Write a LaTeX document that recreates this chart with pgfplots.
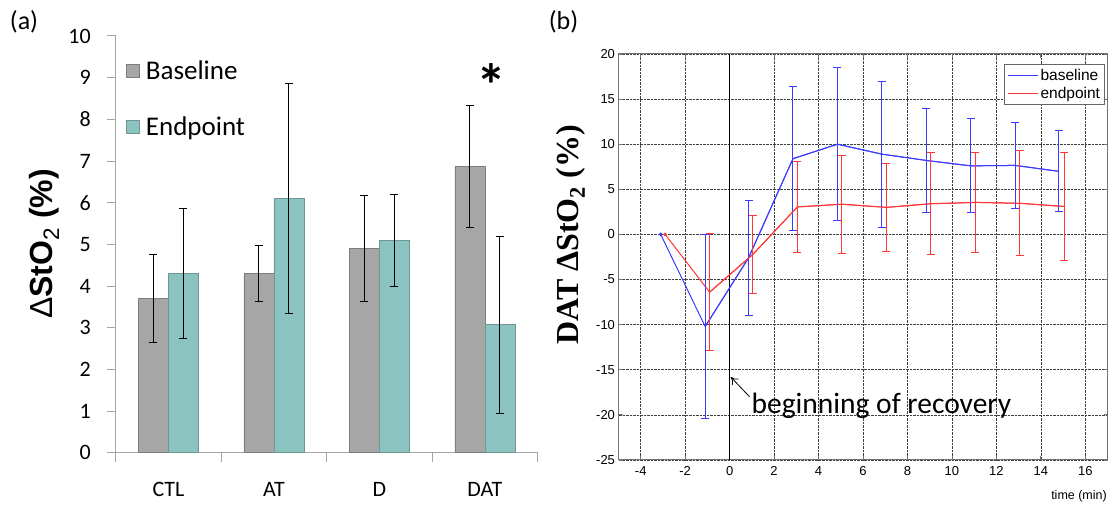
\documentclass[border=0pt]{standalone}
\usepackage{fontspec}
\usepackage{pgfplots}
\pgfplotsset{compat=1.18}
\usetikzlibrary{arrows.meta}

\newfontfamily\carlito{Carlito}
\newfontfamily\arial{Liberation Sans}
\newfontfamily\timesrm{Liberation Serif}

\definecolor{barGray}{RGB}{166,166,166}
\definecolor{barGrayEdge}{RGB}{125,125,125}
\definecolor{barTeal}{RGB}{139,195,193}
\definecolor{barTealEdge}{RGB}{112,150,148}
\definecolor{axisGray}{RGB}{165,165,165}
\definecolor{mBlue}{RGB}{60,60,255}
\definecolor{mRed}{RGB}{255,55,55}

% panel (b): time course of DAT group, mean and SD
\pgfplotstableread{
t      y      e
-3.10  0.00   0
-1.10 -10.20  10.20
 0.85 -2.60   6.40
 2.85  8.40   8.00
 4.85 10.00   8.50
 6.85  8.90   8.10
 8.85  8.20   5.75
10.85  7.60   5.20
12.85  7.65   4.80
14.80  7.00   4.50
}\baselinetab
\pgfplotstableread{
t      y      e
-2.90  0.00   0
-0.90 -6.40   6.50
 1.05 -2.20   4.30
 3.05  3.05   5.05
 5.05  3.35   5.45
 7.05  3.00   4.90
 9.05  3.40   5.65
11.05  3.55   5.50
13.05  3.45   5.80
15.05  3.10   5.95
}\endpointtab

\begin{document}
\begin{tikzpicture}[x=1pt,y=1pt]
\useasboundingbox (0,0) rectangle (1112,506);

% ---------------- panel (a) ----------------
\begin{axis}[
  at={(115.7pt,53.3pt)}, anchor=south west,
  scale only axis, width=422pt, height=416.7pt,
  xmin=-0.5, xmax=3.5, ymin=0, ymax=10,
  ybar=0pt, bar width=30pt,
  axis x line*=bottom, axis y line*=left,
  axis line style={axisGray, line width=1pt},
  xtick={0,1,2,3}, xticklabels={CTL,AT,D,DAT},
  minor xtick={-0.5,0.5,1.5,2.5,3.5},
  ytick={0,1,...,10},
  tick align=outside,
  major x tick style={draw=none},
  minor tick length=9pt, major tick length=8.7pt,
  tick style={axisGray, line width=1pt},
  /pgf/number format/assume math mode=true,
  xticklabel style={font=\carlito\fontsize{22}{26}\selectfont, anchor=base, inner sep=0pt, yshift=-35pt},
  yticklabel style={font=\carlito\fontsize{22}{26}\selectfont, anchor=east, inner sep=0pt, xshift=-16pt},
  legend style={at={(axis cs:-0.403,9.45)}, anchor=north west, draw=none, fill=none,
    font=\carlito\fontsize{27}{32}\selectfont, row sep=31pt, inner sep=0pt,
    nodes={inner xsep=6pt}},
  legend cell align=left,
  clip=false,
]
\addplot[fill=barGray, draw=barGrayEdge, line width=0.8pt,
  legend image code/.code={\draw[fill=barGray, draw=barGrayEdge, line width=0.8pt] (0pt,-6.5pt) rectangle (13pt,6.5pt);},
  error bars/.cd, y dir=both, y explicit,
  error bar style={black, line width=1pt},
  error mark options={rotate=90, black, mark size=4pt, line width=1pt}]
  coordinates {(0,3.70) +- (0,1.06) (1,4.30) +- (0,0.68) (2,4.90) +- (0,1.27) (3,6.87) +- (0,1.47)};
\addlegendentry{Baseline}
\addplot[fill=barTeal, draw=barTealEdge, line width=0.8pt,
  legend image code/.code={\draw[fill=barTeal, draw=barTealEdge, line width=0.8pt] (0pt,-6.5pt) rectangle (13pt,6.5pt);},
  error bars/.cd, y dir=both, y explicit,
  error bar style={black, line width=1pt},
  error mark options={rotate=90, black, mark size=4pt, line width=1pt}]
  coordinates {(0,4.30) +- (0,1.57) (1,6.10) +- (0,2.76) (2,5.10) +- (0,1.10) (3,3.07) +- (0,2.12)};
\addlegendentry{Endpoint}
\node[font=\carlito\bfseries\fontsize{60}{60}\selectfont, anchor=base, inner sep=0pt] at (axis cs:3.06,8.31) {*};
\end{axis}

% ---------------- panel (b) ----------------
\begin{axis}[
  at={(618.5pt,46pt)}, anchor=south west,
  scale only axis, width=489pt, height=406pt,
  xmin=-5, xmax=17, ymin=-25, ymax=20,
  xtick={-4,-2,...,16}, ytick={-25,-20,...,20},
  grid=major, grid style={densely dotted, black!75, line width=0.6pt},
  axis line style={black!55, line width=1pt},
  tick align=inside, major tick length=4pt, tick style={black!55, line width=0.8pt},
  /pgf/number format/assume math mode=true,
  ticklabel style={font=\arial\fontsize{13}{15}\selectfont},
  xticklabel style={yshift=-3pt},
  legend style={at={(0.995,0.975)}, anchor=north east, draw=black!60, line width=1pt,
    fill=white, font=\arial\fontsize{15.5}{18}\selectfont, inner sep=2.5pt, row sep=1pt},
  legend cell align=left,
  legend image code/.code={\draw[#1] (0pt,0pt) -- (30pt,0pt);},
]
\addlegendimage{mBlue, line width=1.1pt}
\addlegendentry{baseline}
\addlegendimage{mRed, line width=1.1pt}
\addlegendentry{endpoint}
% start of recovery
\addplot[black, line width=1pt, forget plot] coordinates {(0,-25) (0,20)};
% mean curves
\addplot[mBlue, line width=1pt, mark=*, mark size=1.3pt, mark indices={1}, forget plot]
  table[x=t, y=y] {\baselinetab};
\addplot[mRed, line width=1pt, mark=*, mark size=1.3pt, mark indices={1}, forget plot]
  table[x=t, y=y] {\endpointtab};
% standard deviations (no spread at the first sample)
\addplot[mBlue, line width=1pt, mark=none, forget plot, skip coords between index={0}{1},
  error bars/.cd, y dir=both, y explicit, error bar style={mBlue, line width=1pt},
  error mark options={rotate=90, mBlue, mark size=4pt, line width=1pt}]
  table[x=t, y=y, y error=e] {\baselinetab};
\addplot[mRed, line width=1pt, mark=none, forget plot, skip coords between index={0}{1},
  error bars/.cd, y dir=both, y explicit, error bar style={mRed, line width=1pt},
  error mark options={rotate=90, mRed, mark size=4pt, line width=1pt}]
  table[x=t, y=y, y error=e] {\endpointtab};
\draw[-{To[length=7pt,width=9pt]}, black, line width=0.8pt] (axis cs:0.9,-18.0) -- (axis cs:0.05,-15.8);
\node[font=\carlito\fontsize{29.5}{34}\selectfont, anchor=base west, inner sep=0pt] at (axis cs:0.98,-19.8) {beginning of recovery};
\end{axis}

% panel letters and axis titles
\node[font=\carlito\fontsize{26}{30}\selectfont] at (24,484) {(a)};
\node[font=\carlito\fontsize{26}{30}\selectfont] at (563.5,484) {(b)};
\node[rotate=90, font=\arial\fontsize{32}{36}\selectfont] at (44,262)
  {Δ\textbf{StO}\textsubscript{2}\textbf{ (\%)}};
\node[rotate=90, font=\timesrm\bfseries\fontsize{32}{36}\selectfont] at (571,271)
  {DAT ΔStO\textsubscript{2} (\%)};
\node[anchor=east, inner sep=0pt, font=\arial\fontsize{12.5}{14}\selectfont] at (1107,10) {time (min)};
\end{tikzpicture}
\end{document}
